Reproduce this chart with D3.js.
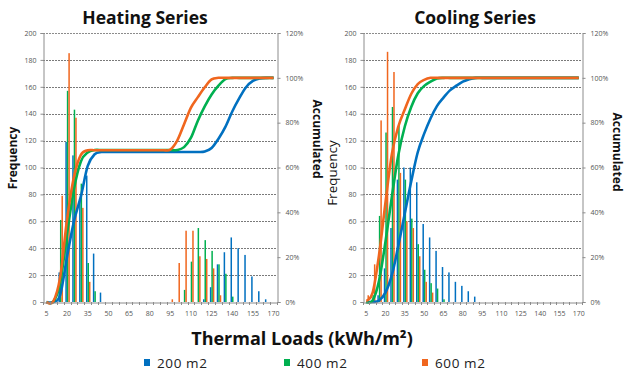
<!DOCTYPE html>
<html><head><meta charset="utf-8">
<script src="https://cdn.jsdelivr.net/npm/d3@7"></script>
<style>body{margin:0;background:#fff}svg{display:block}</style>
</head><body>
<svg id="c" width="631" height="374"></svg>
<script>
// ---------- DATA ----------
const categories = [5,10,15,20,25,30,35,40,45,50,55,60,65,70,75,80,85,90,95,100,105,110,115,120,125,130,135,140,145,150,155,160,165,170];
const xTickLabels = [5,20,35,50,65,80,95,110,125,140,155,170];
const freqTicks = [0,20,40,60,80,100,120,140,160,180,200];
const accTicks = [0,20,40,60,80,100,120];
const seriesNames = ["200 m2","400 m2","600 m2"];

// Heating frequencies
const heat200 = [0,0,22,119,109,77,94,36,7, 0,0,0,0,0,0,0,0,0,0,0,0,0,0, 2,11,28,37,48,40,35,19,8,2,0];
const heat400 = [0,1,61,157,143,88,29,8,0, 0,0,0,0,0,0,0,0,0,0,0, 9,30,55,46,38,28,21,4, 0,0,0,0,0,0];
const heat600 = [0,2,79,185,137,70,15,0,0, 0,0,0,0,0,0,0,0,0, 2,29,53,53,34,32,25,5, 0,0,0,0,0,0,0,0];
// Heating accumulated (%)
const heatAcc200 = [0,0,3.2,20.3,36.0,47.1,60.7,65.9,66.9, 66.9,66.9,66.9,66.9,66.9,66.9,66.9,66.9,66.9,66.9,66.9,66.9,66.9,66.9, 67.1,68.7,72.8,78.1,85.0,90.8,95.8,98.6,99.7,100,100];
const heatAcc400 = [0,0.1,8.6,30.5,50.4,62.7,66.7,67.8,67.8, 67.8,67.8,67.8,67.8,67.8,67.8,67.8,67.8,67.8,67.8,67.8, 69.1,73.3,80.9,87.3,92.6,96.5,99.4,100, 100,100,100,100,100,100];
const heatAcc600 = [0,0.3,11.2,36.9,55.9,65.6,67.7,67.7,67.7, 67.7,67.7,67.7,67.7,67.7,67.7,67.7,67.7,67.7, 68.0,72.0,79.3,86.7,91.4,95.8,99.3,100, 100,100,100,100,100,100,100,100];

// Cooling frequencies
const cool200 = [0,0,5,25,55,91,100,100,89,58,48,38,26,22,15,12,8,4, 0,0,0,0,0,0,0,0,0,0,0,0,0,0,0,0];
const cool400 = [0,5,64,126,145,133,91,62,43,24,14,10,2, 0,0,0,0,0,0,0,0,0,0,0,0,0,0,0,0,0,0,0,0,0];
const cool600 = [5,28,135,186,171,96,60,55,34,15,7, 0,0,0,0,0,0,0,0,0,0,0,0,0,0,0,0,0,0,0,0,0,0,0];
// Cooling accumulated (%)
const coolAcc200 = [0,0,0.7,4.3,12.2,25.3,39.7,54.0,66.8,75.1,82.0,87.5,91.2,94.4,96.5,98.3,99.4,100, 100,100,100,100,100,100,100,100,100,100,100,100,100,100,100,100];
const coolAcc400 = [0,0.7,9.6,27.1,47.3,65.8,78.4,87.1,93.1,96.4,98.3,99.7,100, 100,100,100,100,100,100,100,100,100,100,100,100,100,100,100,100,100,100,100,100,100];
const coolAcc600 = [0.6,4.2,21.2,44.7,66.3,78.4,86.0,92.9,97.2,99.1,100, 100,100,100,100,100,100,100,100,100,100,100,100,100,100,100,100,100,100,100,100,100,100,100];

// ---------- DRAW ----------
const colors = ["#0070C0","#00B050","#F0661E"];
const svg = d3.select("#c");
const FONT = "'Open Sans', 'DejaVu Sans', sans-serif";

function drawChart(cfg){
  const {x0,x1,y0,y1,title,titleX,bars,acc,freqX,freqY,freqBold,freqSize,accX,accY} = cfg;
  const x = d3.scaleBand().domain(categories).range([x0,x1]).padding(0);
  const y = d3.scaleLinear().domain([0,200]).range([y1,y0]);
  const y2 = d3.scaleLinear().domain([0,120]).range([y1,y0]);
  const g = svg.append("g");
  const cx = c => x(c) + x.bandwidth()/2;

  // gridlines
  g.selectAll(null).data(freqTicks.filter(d=>d>0)).join("line")
    .attr("x1",x0).attr("x2",x1)
    .attr("y1",d=>Math.round(y(d))+0.5).attr("y2",d=>Math.round(y(d))+0.5)
    .attr("stroke","#7a7a7a").attr("stroke-width",1).attr("stroke-dasharray","2,1");

  // bars
  const bw = 1.5, offs = [-1.5,0,1.5];
  bars.forEach((arr,j)=>{
    g.selectAll(null).data(arr.map((v,i)=>({c:categories[i],v}))).join("rect")
      .attr("x",d=>cx(d.c)+offs[j]-bw/2+0.5)
      .attr("y",d=>y(d.v)).attr("width",bw)
      .attr("height",d=>y(0)-y(d.v))
      .attr("fill",colors[j]);
  });

  // accumulated lines
  const line = d3.line().x((d,i)=>cx(categories[i])).y(d=>y2(d)).curve(d3.curveCardinal.tension(0));
  acc.forEach((arr,j)=>{
    g.append("path").attr("d",line(arr)).attr("fill","none")
      .attr("stroke",colors[j]).attr("stroke-width",2.6).attr("stroke-linejoin","round");
  });

  // left axis
  const ax = g.append("g").attr("transform",`translate(${x0+0.5},0)`)
    .call(d3.axisLeft(y).tickValues(freqTicks).tickSize(3).tickPadding(4));
  // right axis
  const ar = g.append("g").attr("transform",`translate(${x1+0.5},0)`)
    .call(d3.axisRight(y2).tickValues(accTicks).tickSize(3).tickPadding(5).tickFormat(d=>d+"%"));
  // bottom axis (labels)
  const ab = g.append("g").attr("transform",`translate(0,${y1+0.5})`)
    .call(d3.axisBottom(x).tickValues(xTickLabels).tickSize(0).tickPadding(9));
  // category boundary ticks
  g.selectAll(null).data(categories.concat([null])).join("line")
    .attr("x1",(d,i)=>Math.round(x0+i*x.bandwidth())+0.5)
    .attr("x2",(d,i)=>Math.round(x0+i*x.bandwidth())+0.5)
    .attr("y1",y1).attr("y2",y1+3).attr("stroke","#8c8c8c");
  [ax,ar,ab].forEach(a=>{
    a.selectAll("path").attr("stroke","#8c8c8c");
    a.selectAll("line").attr("stroke","#8c8c8c");
    a.selectAll("text").attr("font-family",FONT).attr("font-size","7px").attr("fill","#555");
  });
  // top border
  g.append("line").attr("x1",x0).attr("x2",x1).attr("y1",y0+0.5).attr("y2",y0+0.5)
    .attr("stroke","#8c8c8c").attr("stroke-dasharray","2,1");

  // title
  g.append("text").attr("x",titleX).attr("y",24).attr("text-anchor","middle")
    .attr("font-family",FONT).attr("font-weight","bold").attr("font-size","17.5px").attr("fill","#111").text(title);
  // axis titles
  g.append("text").attr("transform",`translate(${freqX},${freqY}) rotate(-90)`).attr("text-anchor","middle")
    .attr("font-family",FONT).attr("font-weight",freqBold?"bold":"normal").attr("font-size",freqSize).attr("fill","#111").text("Frequency");
  g.append("text").attr("transform",`translate(${accX},${accY}) rotate(90)`).attr("text-anchor","middle")
    .attr("font-family",FONT).attr("font-weight","bold").attr("font-size","12px").attr("fill","#111").text("Accumulated");
}

drawChart({x0:43,x1:277,y0:33,y1:302,title:"Heating Series",titleX:145,
  bars:[heat200,heat400,heat600],acc:[heatAcc200,heatAcc400,heatAcc600],
  freqX:17,freqY:158,freqBold:true,freqSize:"12px",accX:313,accY:139});
drawChart({x0:363,x1:582,y0:33,y1:302,title:"Cooling Series",titleX:475,
  bars:[cool200,cool400,cool600],acc:[coolAcc200,coolAcc400,coolAcc600],
  freqX:337,freqY:173,freqBold:false,freqSize:"13.5px",accX:613,accY:152});

// x title
svg.append("text").attr("x",302).attr("y",345).attr("text-anchor","middle")
  .attr("font-family",FONT).attr("font-weight","bold").attr("font-size","18px").attr("fill","#111")
  .text("Thermal Loads (kWh/m²)");

// legend
const legX = [144,284,422];
seriesNames.forEach((n,j)=>{
  svg.append("rect").attr("x",legX[j]).attr("y",359).attr("width",6).attr("height",7).attr("fill",colors[j]);
  svg.append("text").attr("x",legX[j]+13).attr("y",368).attr("font-family",FONT)
    .attr("font-size","13.5px").attr("letter-spacing","0.6px").attr("fill","#222").text(n);
});
</script>
</body></html>
